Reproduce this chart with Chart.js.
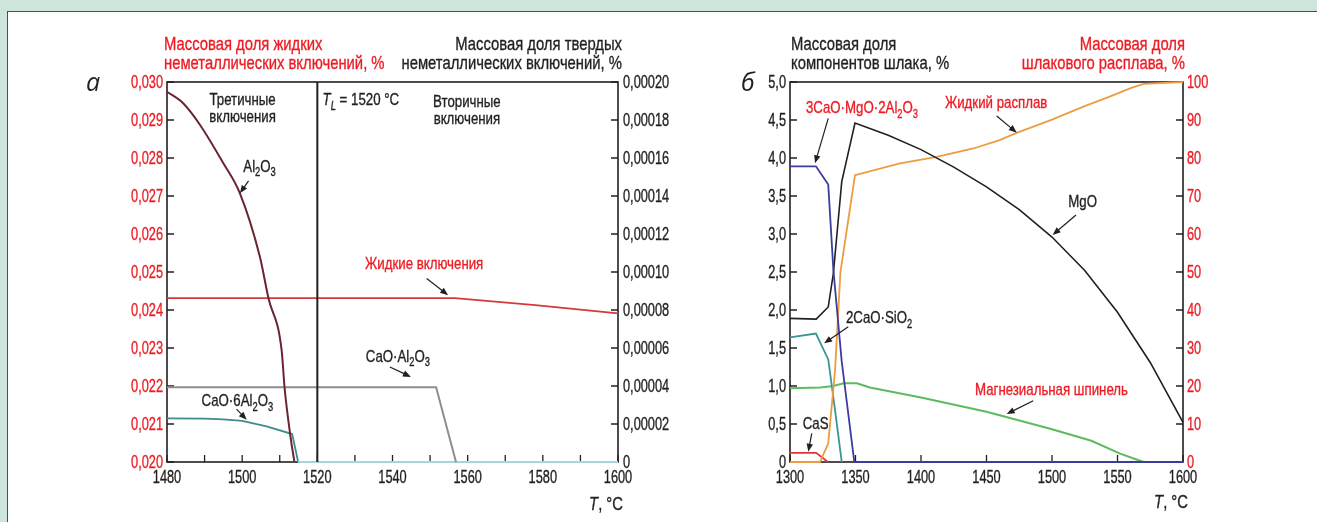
<!DOCTYPE html>
<html>
<head>
<meta charset="utf-8">
<script src="https://cdn.jsdelivr.net/npm/chart.js@4.4.1/dist/chart.umd.min.js"></script>
<style>
  html, body { margin: 0; padding: 0; background: #cde5da; }
  #page { position: relative; width: 1317px; height: 522px; overflow: hidden; background: #cde5da; }
  #sheet { position: absolute; left: 7px; top: 11px; width: 1330px; height: 540px; background: #fff;
           border-left: 1.5px solid #86363a; border-top: 1.5px solid #86363a; }
  canvas { position: absolute; top: 0; }
  #chartA { left: 0; }
  #chartB { left: 660px; }
</style>
</head>
<body>
<div id="page">
  <div id="sheet"></div>
  <canvas id="chartA" width="700" height="522"></canvas>
  <canvas id="chartB" width="657" height="522"></canvas>
</div>
<script>
// no condensed face is installed, so text is squeezed horizontally
const FONT = '"Liberation Sans", Arial, sans-serif';
const BLACK = '#231f20';
const RED = '#ed1c24';
const TICK = { size: 18, sx: 0.71 };
const NOTE = { size: 17, sx: 0.78 };
const TITLE = { size: 19, sx: 0.78 };

// ---- panel a: inclusions vs temperature ----
// liquid inclusions (left axis, %)
const liqT = [1480, 1556.6, 1578, 1600];
const liqV = [0.02431, 0.02431, 0.02413, 0.02391];
// liquidus line T_L = 1520
const tlT = [1520, 1520];
const tlV = [0.020, 0.030];
// solid inclusions (right axis, %)
const al2o3T = [1480, 1484.3, 1488.8, 1495.0, 1499.4, 1504.7, 1507.0, 1510.5, 1511.3, 1512.8, 1513.9];
const al2o3V = [0.0001949, 0.0001888, 0.0001774, 0.0001572, 0.0001414, 0.0001081, 0.0000862, 0.0000589, 0.0000388, 0.0000142, 0];
const ca6T = [1480, 1490, 1495, 1500, 1506.5, 1513.3, 1514.9, 1600];
const ca6V = [0.0000230, 0.0000228, 0.0000224, 0.0000216, 0.0000187, 0.0000147, 0, 0];
const ca1T = [1480, 1551.6, 1556.9];
const ca1V = [0.0000393, 0.0000393, 0];

// ---- panel б: slag components vs temperature ----
const mgoT = [1300, 1320, 1329.2, 1333.1, 1339.5, 1349.6, 1375, 1400, 1425, 1450, 1475, 1500, 1525, 1550, 1575, 1600];
const mgoV = [1.89, 1.88, 2.04, 2.48, 3.69, 4.46, 4.30, 4.11, 3.88, 3.62, 3.32, 2.96, 2.52, 1.97, 1.31, 0.52];
const c3maT = [1300, 1319.8, 1329.2, 1333.1, 1339.5, 1349.1, 1600];
const c3maV = [3.89, 3.89, 3.65, 2.53, 1.32, 0, 0];
const c2sT = [1300, 1319.8, 1329.2, 1334.4, 1339.5];
const c2sV = [1.64, 1.69, 1.35, 0.68, 0];
const spinT = [1300, 1323, 1333, 1341, 1351, 1361, 1400, 1450, 1500, 1530, 1552, 1565, 1570, 1600];
const spinV = [0.97, 0.98, 1.00, 1.035, 1.035, 0.98, 0.85, 0.66, 0.43, 0.28, 0.11, 0.03, 0, 0];
const casT = [1300, 1320, 1329];
const casV = [0.12, 0.12, 0];
// slag melt fraction (right axis, %)
const meltT = [1300, 1322.9, 1329.2, 1334.4, 1338.5, 1349.6, 1384, 1412, 1440, 1460, 1473, 1500, 1524, 1545, 1560, 1570, 1600];
const meltV = [0, 0, 4.9, 24.2, 50, 75.5, 78.6, 80.3, 82.5, 84.7, 86.6, 90.1, 93.5, 96.3, 98.4, 99.5, 100];

// labels inside the plots, in data units of the left axis
const notesA = [
  { x: 1500.1, y: 0.029395, lines: ['Третичные', 'включения'], align: 'center', color: BLACK },
  { x: 1521.4, y: 0.029395, lines: ['~T_L~ = 1520 °C'], align: 'left', color: BLACK },
  { x: 1559.8, y: 0.029342, lines: ['Вторичные', 'включения'], align: 'center', color: BLACK },
  { x: 1500.3, y: 0.02764, lines: ['Al_2O_3'], align: 'left', color: BLACK },
  { x: 1532.7, y: 0.02508, lines: ['Жидкие включения'], align: 'left', color: RED },
  { x: 1532.9, y: 0.02264, lines: ['CaO·Al_2O_3'], align: 'left', color: BLACK },
  { x: 1489.2, y: 0.02148, lines: ['CaO·6Al_2O_3'], align: 'left', color: BLACK }
];
const arrowsA = [
  [1501.7, 0.02740, 1499.4, 0.02707],
  [1549.1, 0.02483, 1554.8, 0.02439],
  [1539.3, 0.02250, 1544.9, 0.02224],
  [1498.5, 0.02139, 1501.2, 0.02111]
];
const notesB = [
  { x: 1312.2, y: 4.588, lines: ['3CaO·MgO·2Al_2O_3'], align: 'left', color: RED },
  { x: 1418.3, y: 4.654, lines: ['Жидкий расплав'], align: 'left', color: RED },
  { x: 1512.4, y: 3.359, lines: ['MgO'], align: 'left', color: BLACK },
  { x: 1342.7, y: 1.825, lines: ['2CaO·SiO_2'], align: 'left', color: BLACK },
  { x: 1441.2, y: 0.882, lines: ['Магнезиальная шпинель'], align: 'left', color: RED },
  { x: 1309.7, y: 0.430, lines: ['CaS'], align: 'left', color: BLACK }
];
const arrowsB = [
  [1329.2, 4.522, 1319.1, 3.930],
  [1457.8, 4.553, 1473.1, 4.333],
  [1518.3, 3.25, 1500.5, 2.987],
  [1344.5, 1.780, 1326.0, 1.562],
  [1485.7, 0.807, 1465.4, 0.632],
  [1316.6, 0.378, 1314.0, 0.136]
];

function pts(xs, ys) {
  return xs.map((x, i) => ({ x: x, y: ys[i] }));
}

// '_' makes the next char a subscript, '~' toggles italic
function parseRich(s) {
  const out = [];
  let italic = false;
  for (let i = 0; i < s.length; i++) {
    const c = s[i];
    if (c === '~') { italic = !italic; continue; }
    if (c === '_') { out.push({ t: s[++i], sub: true, italic: italic }); continue; }
    const last = out[out.length - 1];
    if (last && !last.sub && last.italic === italic) last.t += c;
    else out.push({ t: c, sub: false, italic: italic });
  }
  return out;
}

function drawRich(ctx, s, x, y, align, color, st) {
  const size = st.size, sx = st.sx;
  const parts = parseRich(s);
  const fontOf = p => (p.italic ? 'italic ' : '') + (p.sub ? Math.round(size * 0.72) : size) + 'px ' + FONT;
  let w = 0;
  parts.forEach(p => { ctx.font = fontOf(p); p.w = ctx.measureText(p.t).width * sx; w += p.w; });
  let cx = align === 'right' ? x - w : align === 'center' ? x - w / 2 : x;
  ctx.fillStyle = color;
  ctx.strokeStyle = color;
  ctx.lineWidth = 0.35;
  ctx.textAlign = 'left';
  ctx.textBaseline = 'alphabetic';
  parts.forEach(p => {
    ctx.save();
    ctx.font = fontOf(p);
    ctx.translate(cx, y + (p.sub ? size * 0.28 : 0));
    ctx.scale(sx, 1);
    ctx.fillText(p.t, 0, 0);
    ctx.strokeText(p.t, 0, 0);
    ctx.restore();
    cx += p.w;
  });
}

function arrow(ctx, x1, y1, x2, y2) {
  const a = Math.atan2(y2 - y1, x2 - x1);
  const hl = 8, hw = 3.2;
  ctx.strokeStyle = BLACK;
  ctx.fillStyle = BLACK;
  ctx.lineWidth = 1.2;
  ctx.beginPath();
  ctx.moveTo(x1, y1);
  ctx.lineTo(x2 - Math.cos(a) * hl * 0.8, y2 - Math.sin(a) * hl * 0.8);
  ctx.stroke();
  ctx.beginPath();
  ctx.moveTo(x2, y2);
  ctx.lineTo(x2 - Math.cos(a) * hl - Math.sin(a) * hw, y2 - Math.sin(a) * hl + Math.cos(a) * hw);
  ctx.lineTo(x2 - Math.cos(a) * hl + Math.sin(a) * hw, y2 - Math.sin(a) * hl - Math.cos(a) * hw);
  ctx.closePath();
  ctx.fill();
}

// frame, inward tick marks and tick labels (drawn under the lines)
const framePlugin = {
  id: 'frame',
  beforeDatasetsDraw(chart, args, opts) {
    const ctx = chart.ctx, a = chart.chartArea, s = chart.scales;
    ctx.save();
    ctx.strokeStyle = BLACK;
    ctx.lineWidth = 1.6;
    ctx.strokeRect(a.left, a.top, a.right - a.left, a.bottom - a.top);
    ctx.lineWidth = 1.3;
    ctx.beginPath();
    s.x.ticks.forEach(t => {
      const px = s.x.getPixelForValue(t.value);
      ctx.moveTo(px, a.bottom); ctx.lineTo(px, a.bottom - 7);
    });
    s.yL.ticks.forEach(t => {
      const py = s.yL.getPixelForValue(t.value);
      ctx.moveTo(a.left, py); ctx.lineTo(a.left + 7, py);
    });
    s.yR.ticks.forEach(t => {
      const py = s.yR.getPixelForValue(t.value);
      ctx.moveTo(a.right, py); ctx.lineTo(a.right - 7, py);
    });
    ctx.stroke();
    s.x.ticks.forEach(t => {
      const lab = opts.fmtX(t.value);
      if (lab) drawRich(ctx, lab, s.x.getPixelForValue(t.value), a.bottom + 20.5, 'center', BLACK, TICK);
    });
    s.yL.ticks.forEach(t => {
      drawRich(ctx, opts.fmtL(t.value), a.left - 4, s.yL.getPixelForValue(t.value) + 6.3, 'right', opts.leftColor, TICK);
    });
    s.yR.ticks.forEach(t => {
      drawRich(ctx, opts.fmtR(t.value), a.right + opts.rightPad, s.yR.getPixelForValue(t.value) + 6.3, 'left', opts.rightColor, TICK);
    });
    ctx.restore();
  },
  afterDraw(chart, args, opts) {
    const ctx = chart.ctx, a = chart.chartArea, s = chart.scales;
    ctx.save();
    // axis titles
    opts.leftTitle.forEach((l, i) => drawRich(ctx, l, a.left + opts.leftDx, 50 + i * 18.5, 'left', opts.leftColor, TITLE));
    opts.rightTitle.forEach((l, i) => drawRich(ctx, l, a.right + opts.rightDx, 50 + i * 18.5, 'right', opts.rightColor, TITLE));
    drawRich(ctx, '~T~, °C', a.right + opts.tDx, opts.tY, 'right', BLACK, TITLE);
    // panel letter
    ctx.font = 'italic 25px "Open Sans", "DejaVu Sans", sans-serif';
    ctx.fillStyle = BLACK;
    ctx.textAlign = 'left';
    ctx.textBaseline = 'alphabetic';
    ctx.fillText(opts.letter, a.left + opts.letterDx, 91);
    // notes and arrows
    opts.notes.forEach(n => {
      const px = s.x.getPixelForValue(n.x), py = s.yL.getPixelForValue(n.y);
      n.lines.forEach((l, i) => drawRich(ctx, l, px, py + i * 17, n.align, n.color, NOTE));
    });
    opts.arrows.forEach(r => {
      arrow(ctx, s.x.getPixelForValue(r[0]), s.yL.getPixelForValue(r[1]),
                 s.x.getPixelForValue(r[2]), s.yL.getPixelForValue(r[3]));
    });
    ctx.restore();
  }
};

function line(data, color, axis, extra) {
  return Object.assign({
    data: data, borderColor: color, borderWidth: 1.8, yAxisID: axis,
    pointRadius: 0, tension: 0, fill: false, clip: false
  }, extra || {});
}

function axis(pos, min, max, step, width) {
  return {
    type: 'linear', position: pos, min: min, max: max,
    grid: { display: false, drawTicks: false }, border: { display: false },
    ticks: { display: false, stepSize: step, autoSkip: false, maxRotation: 0 },
    afterFit: sc => { if (pos === 'bottom') sc.height = width; else sc.width = width; }
  };
}

new Chart(document.getElementById('chartA'), {
  type: 'line',
  data: {
    datasets: [
      line(pts(tlT, tlV), BLACK, 'yL', { borderWidth: 2 }),
      line(pts(al2o3T, al2o3V), '#6b2431', 'yR', { cubicInterpolationMode: 'monotone', borderWidth: 2 }),
      line(pts(liqT, liqV), '#d23a3c', 'yL'),
      line(pts(ca1T, ca1V), '#8e8e8e', 'yR', { borderWidth: 2 }),
      line(pts(ca6T, ca6V), '#3c8c90', 'yR', {
        segment: { borderColor: c => (c.p0.parsed.y === 0 && c.p1.parsed.y === 0) ? '#a8d3dd' : undefined }
      })
    ]
  },
  options: {
    responsive: false,
    animation: false,
    devicePixelRatio: 1,
    layout: { padding: { left: 100, top: 82, right: 30, bottom: 10 } },
    plugins: {
      legend: { display: false },
      tooltip: { enabled: false },
      frame: {
        fmtX: v => (v % 20 === 0 ? String(v) : ''),
        fmtL: v => v.toFixed(3).replace('.', ','),
        fmtR: v => (Math.abs(v) < 1e-9 ? '0' : v.toFixed(5).replace('.', ',')),
        leftTitle: ['Массовая доля жидких', 'неметаллических включений, %'], leftColor: RED, leftDx: -3,
        rightTitle: ['Массовая доля твердых', 'неметаллических включений, %'], rightColor: BLACK, rightDx: 4,
        rightPad: 5, tDx: 5, tY: 510, letter: 'а', letterDx: -81,
        notes: notesA, arrows: arrowsA
      }
    },
    scales: {
      x: axis('bottom', 1480, 1600, 10, 50),
      yL: axis('left', 0.020, 0.030, 0.001, 67),
      yR: axis('right', 0, 0.0002, 0.00002, 52)
    }
  },
  plugins: [framePlugin]
});

new Chart(document.getElementById('chartB'), {
  type: 'line',
  data: {
    datasets: [
      line(pts(c3maT, c3maV), '#3c3c9c', 'yL'),
      line(pts(mgoT, mgoV), BLACK, 'yL', { borderWidth: 1.6 }),
      line(pts(meltT, meltV), '#eb9d3f', 'yR'),
      line(pts(c2sT, c2sV), '#3a9494', 'yL'),
      line(pts(spinT, spinV), '#5dba5f', 'yL', { borderWidth: 2 }),
      line(pts(casT, casV), '#e0363a', 'yL')
    ]
  },
  options: {
    responsive: false,
    animation: false,
    devicePixelRatio: 1,
    layout: { padding: { left: 70, top: 82, right: 80, bottom: 10 } },
    plugins: {
      legend: { display: false },
      tooltip: { enabled: false },
      frame: {
        fmtX: v => String(v),
        fmtL: v => (v === 0 ? '0' : v.toFixed(1).replace('.', ',')),
        fmtR: v => String(Math.round(v)),
        leftTitle: ['Массовая доля', 'компонентов шлака, %'], leftColor: BLACK, leftDx: 1,
        rightTitle: ['Массовая доля', 'шлакового расплава, %'], rightColor: RED, rightDx: 2,
        rightPad: 4, tDx: 5, tY: 508, letter: 'б', letterDx: -49,
        notes: notesB, arrows: arrowsB
      }
    },
    scales: {
      x: axis('bottom', 1300, 1600, 50, 50),
      yL: axis('left', 0, 5, 0.5, 60),
      yR: axis('right', 0, 100, 10, 54)
    }
  },
  plugins: [framePlugin]
});
</script>
</body>
</html>
